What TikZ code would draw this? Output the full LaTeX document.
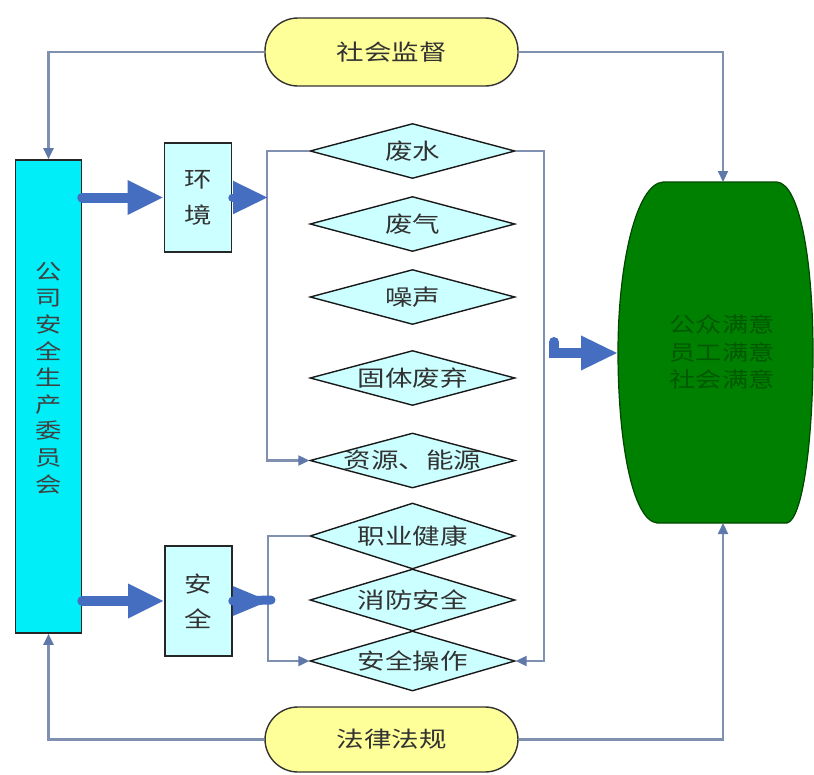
\documentclass[tikz,border=0pt]{standalone}
\usepackage{fontspec}
\newfontfamily\cjk[FakeStretch=1.25]{Noto Sans CJK SC}
\usetikzlibrary{shapes.geometric,arrows.meta}
\definecolor{linkc}{RGB}{128,144,176}
\definecolor{tipc}{RGB}{95,120,170}
\definecolor{thickc}{RGB}{70,110,192}
\definecolor{cyanbox}{RGB}{0,238,248}
\definecolor{lightcyan}{RGB}{204,255,255}
\definecolor{yel}{RGB}{255,255,153}
\definecolor{grn}{RGB}{0,128,0}
\definecolor{grnd}{RGB}{0,72,0}
\definecolor{grntxt}{RGB}{0,88,0}
\definecolor{txt}{RGB}{50,50,50}
\newcommand\dtext[1]{\makebox[0pt]{#1}}
\begin{document}
\begin{tikzpicture}[x=1pt,y=-1pt,
  font=\cjk\fontsize{22}{27}\selectfont, text=txt,
  box/.style={draw=black!85, line width=1.6pt, fill=lightcyan, inner sep=0pt,
    minimum width=67pt, minimum height=109pt, align=center},
  dia/.style={diamond, draw=black!90, line width=1.4pt, fill=lightcyan, inner sep=0pt,
    shape aspect=3.7, minimum width=205pt, minimum height=55pt},
  stad/.style={rectangle, rounded corners=33pt, draw=black!80, line width=1.4pt, fill=yel,
    minimum width=253pt, minimum height=68pt, inner sep=0pt},
  link/.style={draw=linkc, line width=2.2pt},
  lto/.style={link, -{Triangle[length=11pt,width=10pt,color=tipc]}},
  fat/.style={draw=thickc, line width=10pt, line cap=round}
]
\useasboundingbox (0,0) rectangle (814,774);

% top and bottom ovals
\node[stad] (top) at (391.5,52) {社会监督};
\node[stad, minimum height=65pt] (bot) at (391.5,739.5) {法律法规};

% left committee box
\node[draw=black!85, line width=1.6pt, fill=cyanbox, minimum width=66pt, minimum height=473pt, inner sep=0pt] (com) at (48.5,396.5) {};
\node[align=center, font=\cjk\fontsize{21}{26.6}\selectfont, text=black!75] (comt) at (48.5,378) {公\\司\\安\\全\\生\\产\\委\\员\\会};

% middle boxes
\node[box, font=\cjk\fontsize{22}{36}\selectfont] (env) at (198,197.5) {环\\境};
\node[box, minimum height=110pt, font=\cjk\fontsize{22}{35}\selectfont] (saf) at (198.5,601) {安\\全};

% diamonds
\node[dia] (d1) at (412.5,151) {\dtext{废水}};
\node[dia] (d2) at (412.5,224) {\dtext{废气}};
\node[dia] (d3) at (412.5,297) {\dtext{噪声}};
\node[dia] (d4) at (412.5,378) {\dtext{固体废弃}};
\node[dia] (d5) at (412.5,460.5) {\dtext{资源、能源}};
\node[dia, minimum height=66pt] (d6) at (412.5,536) {\dtext{职业健康}};
\node[dia, minimum height=62pt] (d7) at (412.5,600) {\dtext{消防安全}};
\node[dia, minimum height=60pt] (d8) at (412.5,661) {\dtext{安全操作}};

% green result shape
\coordinate (grtop) at (723,182);
\coordinate (grbot) at (723,523);
\coordinate (grleft) at (618,353);
\fill[grn, draw=grnd, line width=1.2pt]
  (663,182) -- (777,182)
  .. controls (800,184) and (813,262) .. (813,352)
  .. controls (813,445) and (802,520) .. (787,523)
  -- (657,523)
  .. controls (632,520) and (618,440) .. (618,352)
  .. controls (618,265) and (636,184) .. (663,182) -- cycle;
\node[align=center, text=grntxt, font=\cjk\fontsize{21}{27.5}\selectfont] (sat) at (722,352) {公众满意\\员工满意\\社会满意};

% feedback connectors
\draw[lto] (top.west) -| (com.north);
\draw[lto] (top.east) -| (grtop);
\draw[lto] (bot.west) -| (com.south);
\draw[lto] (bot.east) -| (grbot);

% brackets
\draw[lto] (d1.west) -- ++(-42,0) |- (d5.west);
\draw[lto] (d1.east) -- ++(28,0) |- (d8.east);
\draw[lto] (d6.west) -- ++(-41,0) |- (d8.west);

% thick arrows
\coordinate (envin) at (268,197.5);
\coordinate (safin) at (271,600);
\coordinate (hook) at (554,342);
\draw[fat, -{Triangle[length=36pt,width=32pt]}] (com.east |- env.west) -- (env.west);
\draw[fat, -{Triangle[length=36pt,width=32pt]}] (com.east |- saf.west) -- (saf.west);
\draw[fat, line width=8pt, -{Triangle[length=35pt,width=31pt]}] (env.east) -- (envin);
\fill[thickc] ([yshift=15pt]saf.east) -- ([yshift=-15pt]saf.east) -- ([xshift=36pt]saf.east) -- cycle;
\draw[fat, line width=9pt] (saf.east) -- (safin);
\draw[fat, line join=miter, -{Triangle[length=37pt,width=32pt]}] (hook) -- ++(0,11) -- (grleft);
\end{tikzpicture}
\end{document}
